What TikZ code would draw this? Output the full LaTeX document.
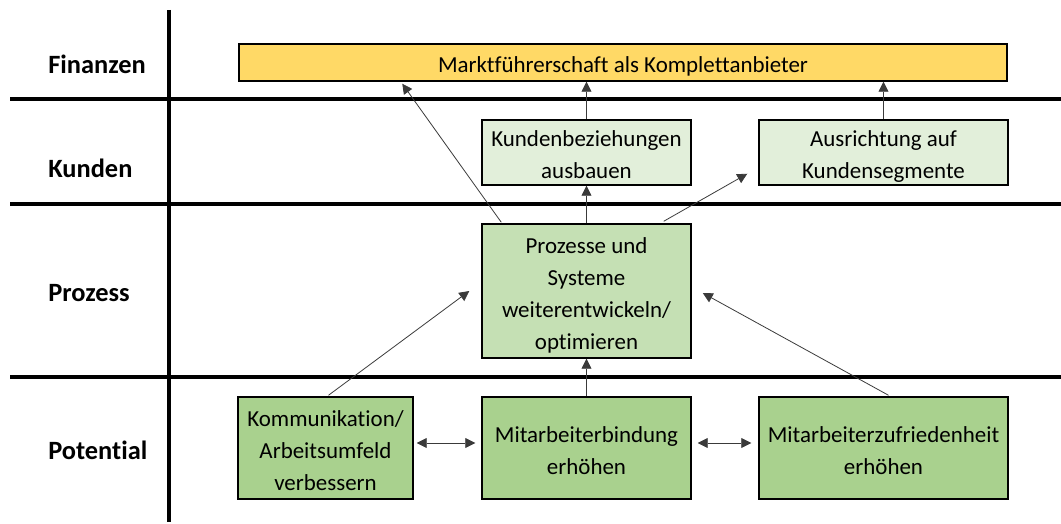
\documentclass[tikz,border=0pt]{standalone}
\usepackage{fontspec}
\setmainfont{Carlito}[Ligatures=NoCommon]
\usetikzlibrary{arrows.meta,calc}
\definecolor{finfill}{HTML}{FFD966}
\definecolor{kundfill}{HTML}{E2EFDA}
\definecolor{prozfill}{HTML}{C5E0B4}
\definecolor{potfill}{HTML}{A9D18E}
\definecolor{conn}{HTML}{3A3A3A}
% centred lines, set a little below the middle of the box
\newcommand\boxtext[1]{\raisebox{-3pt}[\height][\depth]{\begin{tabular}{@{}c@{}}#1\end{tabular}}}
% place a box by its corners (pixel grid)
\newcommand\boxcorners[7]{%
  \node[#6, minimum width={(#4-#2)*0.75pt}, minimum height={(#5-#3)*0.75pt}]
    (#1) at ({(#2+#4)/2},{(#3+#5)/2}) {\boxtext{#7}};}
\begin{document}
\begin{tikzpicture}[x=0.75pt,y=-0.75pt,
  box/.style={draw=black, line width=1.1pt, inner sep=0pt,
    font=\fontsize{17.2}{24}\selectfont},
  fin/.style={box, fill=finfill},
  kund/.style={box, fill=kundfill},
  proz/.style={box, fill=prozfill},
  pot/.style={box, fill=potfill},
  rowlabel/.style={anchor=west, inner sep=0pt, font=\fontsize{19.8}{22}\selectfont\bfseries},
  rule/.style={line width=2.3pt, black},
  arr/.style={draw=conn, line width=0.6pt, -{Triangle[length=7.5pt,width=7.5pt]}},
  dbl/.style={draw=conn, line width=0.6pt, {Triangle[length=7.5pt,width=7.5pt]}-{Triangle[length=7.5pt,width=7.5pt]}}]
\useasboundingbox (0,0) rectangle (1061,524);

% grid of perspectives
\draw[rule] (169,10) -- (169,522);
\draw[rule] (10,99) -- (1061,99);
\draw[rule] (10,204) -- (1061,204);
\draw[rule] (10,377) -- (1061,377);

% row labels
\node[rowlabel] (lfin) at (48,64) {Finanzen};
\node[rowlabel] (lkund) at (48,168) {Kunden};
\node[rowlabel] (lproz) at (48,293) {Prozess};
\node[rowlabel] (lpot) at (48,450) {Potential};

% objectives
\boxcorners{markt}{239}{44}{1007}{81}{fin}{Marktführerschaft als Komplettanbieter}
\boxcorners{kb}{482}{120}{691}{185}{kund}{Kundenbeziehungen\\ausbauen}
\boxcorners{aus}{759}{120}{1008}{185}{kund}{Ausrichtung auf\\Kundensegmente}
\boxcorners{pr}{482}{224}{691}{358}{proz}{Prozesse und\\Systeme\\weiterentwickeln/\\optimieren}
\boxcorners{komm}{238}{397}{413}{499}{pot}{Kommunikation/\\Arbeitsumfeld\\verbessern}
\boxcorners{mb}{482}{397}{691}{499}{pot}{Mitarbeiterbindung\\erhöhen}
\boxcorners{zuf}{759}{397}{1008}{499}{pot}{Mitarbeiterzufriedenheit\\erhöhen}

% cause-effect links
\draw[arr] ($(pr.north west)+(20,-1)$) -- ($(markt.south west)+(164,2)$);
\draw[arr] (kb.north) -- (kb.north |- markt.south);
\draw[arr] (aus.north) -- (aus.north |- markt.south);
\draw[arr] (pr.north) -- (kb.south);
\draw[arr] ($(pr.north east)+(-28,-2)$) -- ($(aus.south west)+(-11,-12)$);
\draw[arr] ($(komm.north)+(3,-1)$) -- ($(pr.west)+(-12,0)$);
\draw[arr] ($(zuf.north)+(5,-1)$) -- ($(pr.east)+(11,2)$);
\draw[arr] (mb.north) -- (pr.south);
\draw[dbl] ($(komm.east)+(3,-5)$) -- ($(mb.west)+(-6,-5)$);
\draw[dbl] ($(mb.east)+(6,-5)$) -- ($(zuf.west)+(-7,-5)$);
\end{tikzpicture}
\end{document}
